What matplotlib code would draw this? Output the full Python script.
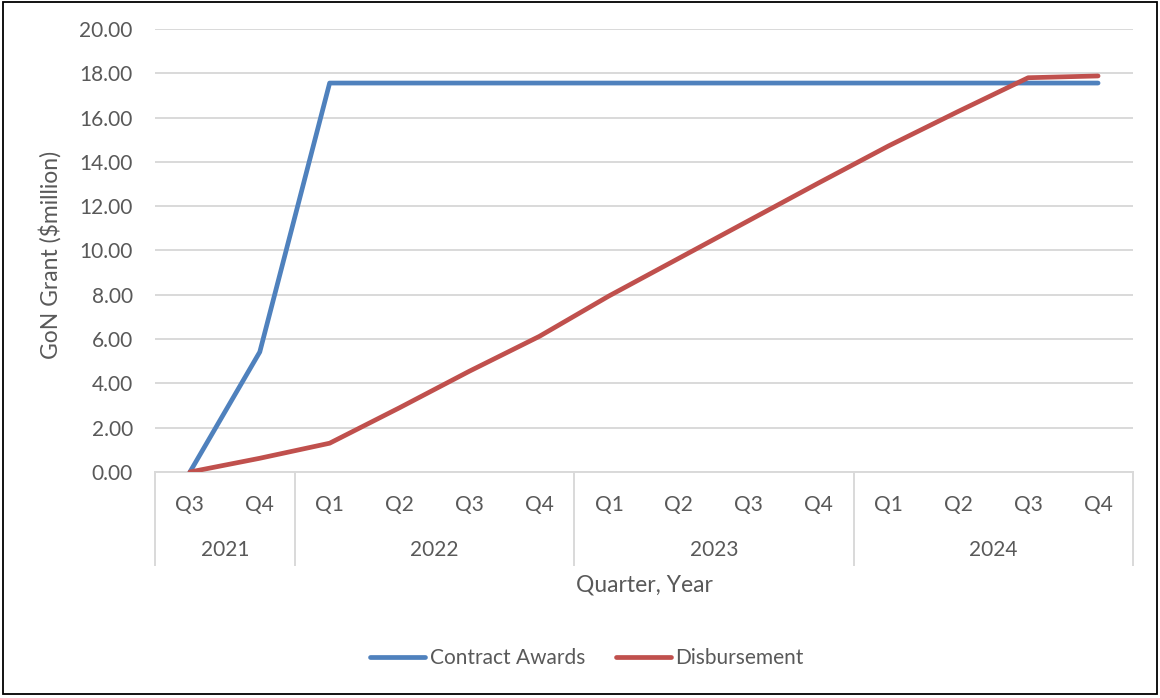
import matplotlib
matplotlib.use("Agg")
import matplotlib.pyplot as plt
from matplotlib.patches import Rectangle
import matplotlib.transforms as mtransforms

# Quarterly cumulative GoN grant figures ($ million)
quarters = ["Q3", "Q4", "Q1", "Q2", "Q3", "Q4", "Q1", "Q2", "Q3", "Q4", "Q1", "Q2", "Q3", "Q4"]
years = ["2021", "2022", "2023", "2024"]
quarters_per_year = [2, 4, 4, 4]
contract_awards = [0.0, 5.42, 17.56, 17.56, 17.56, 17.56, 17.56, 17.56, 17.56, 17.56, 17.56, 17.56, 17.56, 17.56]
disbursement = [0.0, 0.62, 1.30, 2.90, 4.55, 6.12, 7.95, 9.65, 11.35, 13.05, 14.72, 16.28, 17.80, 17.88]

TEXT = "#595959"
GRID = "#D9D9D9"
FONT = "Lato"
TICK_SIZE = 15
TITLE_SIZE = 16.5

fig = plt.figure(figsize=(11.6, 6.98), dpi=100)
ax = fig.add_axes([155 / 1160, 1 - 472 / 698, (1133 - 155) / 1160, (472 - 29) / 698])

x = list(range(len(quarters)))
ax.plot(x, contract_awards, color="#4F81BD", lw=3.4, solid_capstyle="round",
        solid_joinstyle="round", label="Contract Awards", zorder=3)
ax.plot(x, disbursement, color="#C0504D", lw=3.4, solid_capstyle="round",
        solid_joinstyle="round", label="Disbursement", zorder=4)

ax.set_xlim(-0.5, len(quarters) - 0.5)
ax.set_ylim(0, 20)
ax.set_yticks(range(0, 21, 2))
ax.set_yticklabels([f"{v:.2f}" for v in range(0, 21, 2)], fontsize=TICK_SIZE,
                   color=TEXT, family=FONT)
ax.tick_params(axis="y", length=0, pad=16)
ax.set_xticks([])
ax.grid(axis="y", color=GRID, lw=1.4)
ax.set_axisbelow(True)
for s in ax.spines.values():
    s.set_visible(False)

# Two-level category axis: quarters above, years below, with group dividers
trans = mtransforms.blended_transform_factory(ax.transData, ax.transAxes)
ax.plot([-0.5, len(quarters) - 0.5], [0, 0], color=GRID, lw=1.4, transform=trans,
        clip_on=False, zorder=2)
for i, q in enumerate(quarters):
    ax.text(i, -33 / 443, q, transform=trans, ha="center", va="center",
            fontsize=TICK_SIZE, color=TEXT, family=FONT)
bounds = [-0.5]
for n in quarters_per_year:
    bounds.append(bounds[-1] + n)
for b in bounds:
    ax.plot([b, b], [0, -93 / 443], color=GRID, lw=1.4, transform=trans,
            clip_on=False)
for yr, lo, hi in zip(years, bounds[:-1], bounds[1:]):
    ax.text((lo + hi) / 2, -78 / 443, yr, transform=trans, ha="center", va="center",
            fontsize=TICK_SIZE, color=TEXT, family=FONT)

fig.text(644 / 1160, 1 - 585 / 698, "Quarter, Year", ha="center", va="center",
         fontsize=TITLE_SIZE, color=TEXT, family=FONT)
fig.text(50 / 1160, 1 - 255 / 698, "GoN Grant ($million)", ha="center", va="center",
         rotation=90, fontsize=TITLE_SIZE, color=TEXT, family=FONT)

leg = fig.legend(loc="center", bbox_to_anchor=(587 / 1160, 1 - 658 / 698), ncol=2,
                 frameon=False, handlelength=2.65, handletextpad=0.2,
                 columnspacing=1.5, prop={"family": FONT, "size": TICK_SIZE})
for t in leg.get_texts():
    t.set_color(TEXT)

fig.patches.append(Rectangle((3 / 1160, 4 / 698), 1154 / 1160, 692 / 698,
                             transform=fig.transFigure, fill=False, ec="black",
                             lw=1.3))

fig.savefig("out.png", dpi=100)
